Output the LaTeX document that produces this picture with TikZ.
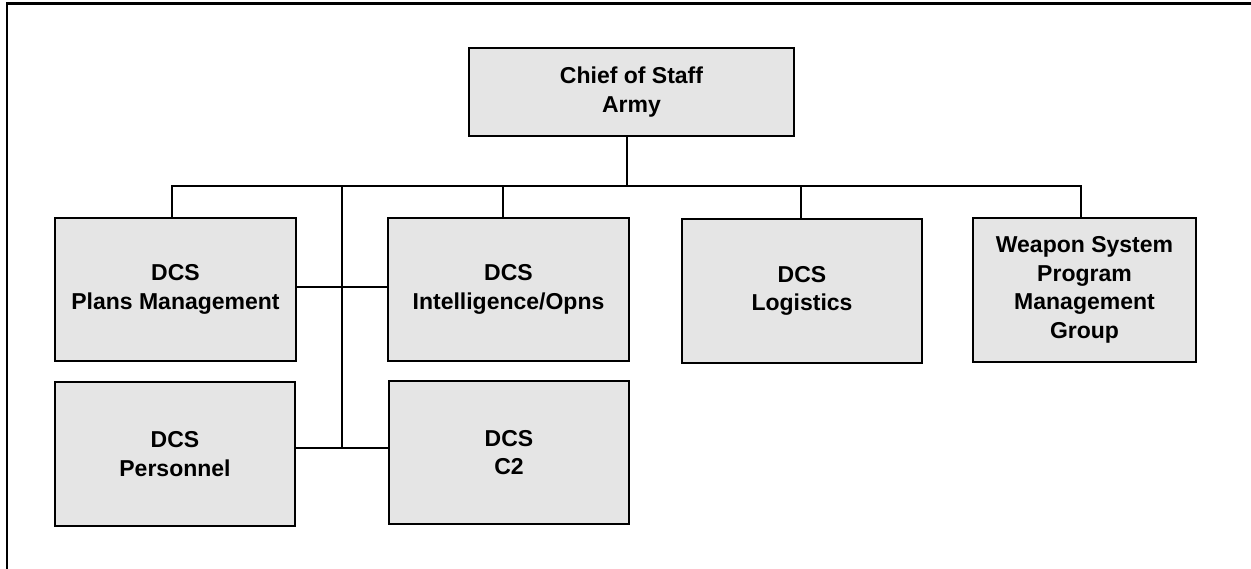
\documentclass[tikz,border=0pt]{standalone}
\usepackage{fontspec}
\setmainfont{Liberation Sans}
\begin{document}
\begin{tikzpicture}[x=1pt,y=-1pt,
  unit/.style={draw=black,line width=2.4pt,fill=black!10,inner sep=0pt,
    align=center,font=\bfseries\fontsize{23}{28.5}\selectfont},
  link/.style={draw=black,line width=2pt}]
  \useasboundingbox (0,0) rectangle (1251,568);
  % outer frame (left and top sides)
  \draw[line width=2.6pt] (7,580) -- (7,3.5) -- (1262,3.5);

  % units
  \node[unit,minimum width=325pt,minimum height=88pt] (chief) at (631.5,92) {Chief of Staff\\Army};
  \node[unit,minimum width=241pt,minimum height=143pt] (plans) at (175.5,289.5) {DCS\\Plans Management};
  \node[unit,minimum width=241pt,minimum height=143pt] (intel) at (508.5,289.5) {DCS\\Intelligence/Opns};
  \node[unit,minimum width=240pt,minimum height=144pt] (logi) at (802,291) {DCS\\Logistics};
  \node[unit,minimum width=223pt,minimum height=144pt] (wsys) at (1084.5,290) {Weapon System\\Program\\Management\\Group};
  \node[unit,minimum width=240pt,minimum height=144pt] (pers) at (175,454) {DCS\\Personnel};
  \node[unit,minimum width=240pt,minimum height=143pt] (ctwo) at (509,452.5) {DCS\\C2};

  % bus and branch points
  \coordinate (busL) at (172,186);
  \coordinate (busR) at (1081,186);
  \coordinate (hub) at (627,186);
  \coordinate (trunk) at (342,186);
  \coordinate (dIntel) at (503,186);
  \coordinate (dLogi) at (801,186);
  \coordinate (tMid) at (342,287);
  \coordinate (tLow) at (342,448);

  \draw[link] (hub |- chief.south) -- (hub);
  \draw[link] (busL |- plans.north) -- (busL) -- (busR) -- (busR |- wsys.north);
  \draw[link] (dIntel) -- (dIntel |- intel.north);
  \draw[link] (dLogi) -- (dLogi |- logi.north);
  \draw[link] (trunk) -- (tLow);
  \draw[link] (plans.east |- tMid) -- (intel.west |- tMid);
  \draw[link] (pers.east |- tLow) -- (ctwo.west |- tLow);
\end{tikzpicture}
\end{document}
